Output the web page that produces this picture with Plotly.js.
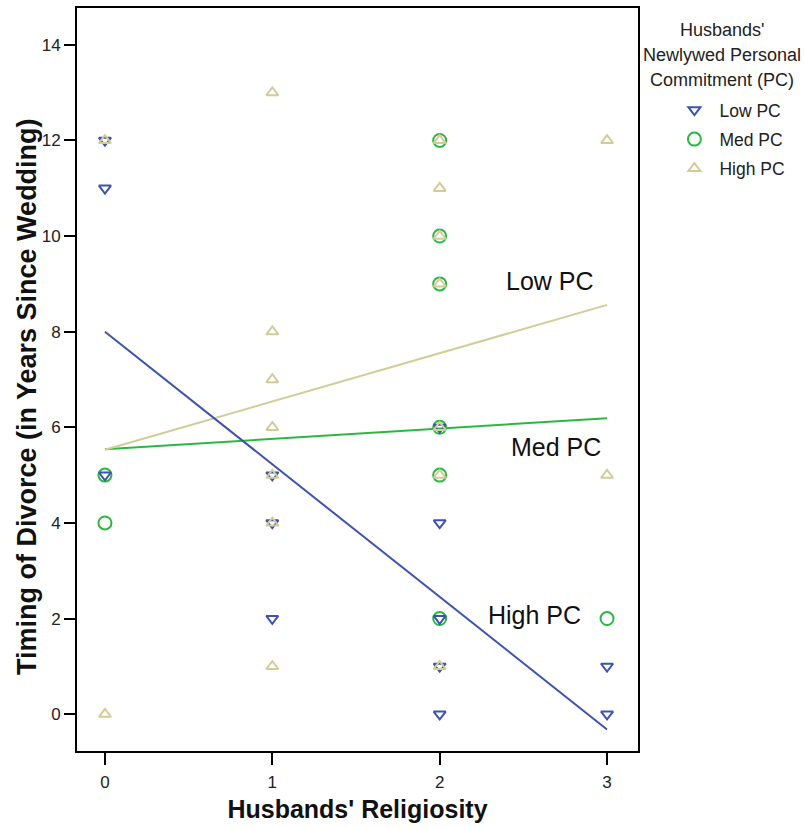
<!DOCTYPE html>
<html>
<head>
<meta charset="utf-8">
<script src="https://cdn.plot.ly/plotly-3.0.1.min.js"></script>
<style>html,body{margin:0;padding:0;background:#fff;}#chart{width:804px;height:829px;}</style>
</head>
<body>
<div id="chart"></div>
<script>
// Scatter data: husbands' religiosity (x) vs timing of divorce (y)
const lowX  = [0, 0, 0, 1, 1, 1, 2, 2, 2, 2, 2, 3, 3];
const lowY  = [12, 11, 5, 5, 4, 2, 6, 4, 2, 1, 0, 1, 0];
const medX  = [0, 0, 2, 2, 2, 2, 2, 2, 3];
const medY  = [5, 4, 12, 10, 9, 6, 5, 2, 2];
const highX = [0, 0, 1, 1, 1, 1, 1, 1, 1, 2, 2, 2, 2, 2, 2, 2, 3, 3];
const highY = [12, 0, 13, 8, 7, 6, 5, 4, 1, 12, 11, 10, 9, 6, 5, 1, 12, 5];
// Fitted regression lines (values at x = 0 and x = 3)
const fitX = [0, 3];
const lowFit = [8.0, -0.32];
const medFit = [5.54, 6.19];
const highFit = [5.53, 8.56];
// In-plot labels
const lineLabels = ['Low PC', 'Med PC', 'High PC'];
const lineLabelX = [2.657, 2.696, 2.564];
const lineLabelY = [9.06, 5.59, 2.07];
const seriesNames = ['Low PC', 'Med PC', 'High PC'];
const legendTitleLines = ["Husbands'", 'Newlywed Personal', 'Commitment (PC)'];
const xTicks = [0, 1, 2, 3];
const yTicks = [0, 2, 4, 6, 8, 10, 12, 14];

const cBlue = 'rgb(62,84,172)';
const cGreen = 'rgb(42,184,66)';
const cTan = 'rgb(211,203,152)';
const FONT = 'Liberation Sans, Arial, sans-serif';

const fitTraces = [
  {x: fitX, y: medFit, mode: 'lines', line: {color: cGreen, width: 2}, showlegend: false, hoverinfo: 'skip'},
  {x: fitX, y: highFit, mode: 'lines', line: {color: cTan, width: 2}, showlegend: false, hoverinfo: 'skip'},
  {x: fitX, y: lowFit, mode: 'lines', line: {color: cBlue, width: 2}, showlegend: false, hoverinfo: 'skip'}
];
const medTrace = {x: medX, y: medY, name: seriesNames[1], mode: 'markers', legendrank: 2, legendgroup: 'g2',
   marker: {symbol: 'circle-open', size: 13, color: cGreen, line: {width: 2, color: cGreen}}};
const lowTrace = {x: lowX, y: lowY, name: seriesNames[0], mode: 'markers', legendrank: 1, legendgroup: 'g1',
   marker: {symbol: 'triangle-down-open', size: 10.5, color: cBlue, line: {width: 2, color: cBlue}}};
const highTrace = {x: highX, y: highY, name: seriesNames[2], mode: 'markers', legendrank: 3, legendgroup: 'g3',
   marker: {symbol: 'triangle-up-open', size: 10.5, color: cTan, line: {width: 2, color: cTan}}};
const data = fitTraces.concat([medTrace, lowTrace, highTrace]);

const annotations = lineLabels.map((t, i) => ({
  x: lineLabelX[i], y: lineLabelY[i], xref: 'x', yref: 'y', text: t, showarrow: false,
  font: {family: FONT, size: 25, color: '#111'}
}));
// legend title (three centred lines)
const titleLineY = [0.970, 0.937, 0.903];
legendTitleLines.forEach((t, i) => annotations.push({
  xref: 'paper', yref: 'paper', x: 1.150, y: titleLineY[i], xanchor: 'center', yanchor: 'middle',
  text: t, showarrow: false, font: {family: FONT, size: 18, color: '#222'}
}));
// y axis title
annotations.push({
  xref: 'paper', yref: 'paper', x: -0.089, y: 0.4765, xanchor: 'center', yanchor: 'middle',
  textangle: -90, text: '<b>Timing of Divorce (in Years Since Wedding)</b>', showarrow: false,
  font: {family: FONT, size: 27, color: '#111'}
});

const layout = {
  width: 804, height: 829,
  margin: {l: 77, r: 166, t: 8, b: 78},
  paper_bgcolor: '#fff', plot_bgcolor: '#fff',
  font: {family: FONT, color: '#222'},
  showlegend: true,
  legend: {x: 1.056, xanchor: 'left', y: 0.887, yanchor: 'top', font: {size: 17.5, color: '#222'},
           bgcolor: 'rgba(0,0,0,0)', traceorder: 'grouped', tracegroupgap: 3.5, itemwidth: 40},
  xaxis: {range: [-0.167, 3.185], tickvals: xTicks, ticks: 'outside', ticklen: 12, tickwidth: 2,
          tickcolor: '#000', showgrid: false, zeroline: false, showline: true, linecolor: '#000',
          linewidth: 2, mirror: true, tickfont: {size: 17, color: '#222'}, ticklabelstandoff: 3,
          title: {text: "<b>Husbands' Religiosity</b>", font: {size: 25, color: '#111'}, standoff: 9}},
  yaxis: {range: [-0.77, 14.77], tickvals: yTicks, ticks: 'outside', ticklen: 11, tickwidth: 2,
          tickcolor: '#000', showgrid: false, zeroline: false, showline: true, linecolor: '#000',
          linewidth: 2, mirror: true, tickfont: {size: 17, color: '#222'}},
  annotations: annotations
};

Plotly.newPlot('chart', data, layout, {displayModeBar: false, staticPlot: true});
</script>
</body>
</html>
